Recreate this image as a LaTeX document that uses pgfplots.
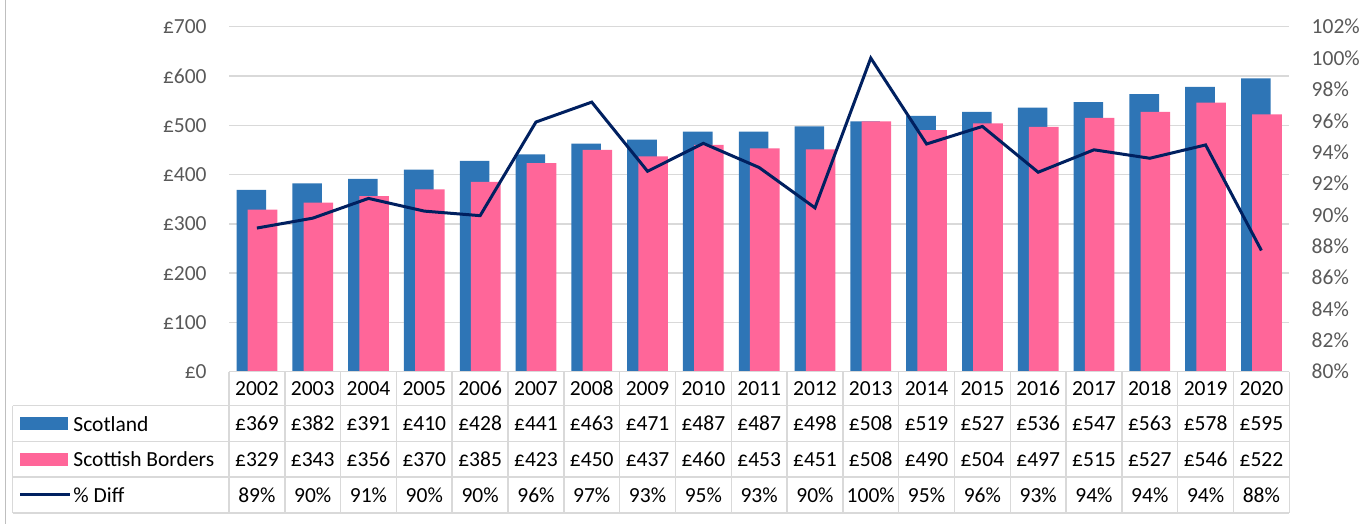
\documentclass[border=0pt]{standalone}
\usepackage{pgfplots}
\usepackage{pgfplotstable}
\pgfplotsset{compat=1.18}
\usepackage{fontspec}
\setmainfont{Carlito}
\definecolor{scot}{HTML}{2E75B6}
\definecolor{bord}{HTML}{FF6699}
\definecolor{navy}{HTML}{002060}
\definecolor{tickgray}{HTML}{595959}
\definecolor{gridgray}{HTML}{D9D9D9}
\definecolor{framegray}{HTML}{BFBFBF}

\pgfplotstableread{
year scot bord pct lab
2002 369 329 89.16 89
2003 382 343 89.79 90
2004 391 356 91.05 91
2005 410 370 90.24 90
2006 428 385 89.95 90
2007 441 423 95.92 96
2008 463 450 97.19 97
2009 471 437 92.78 93
2010 487 460 94.56 95
2011 487 453 93.02 93
2012 498 451 90.45 90
2013 508 508 100.00 100
2014 519 490 94.52 95
2015 527 504 95.64 96
2016 536 497 92.72 93
2017 547 515 94.15 94
2018 563 527 93.61 94
2019 578 546 94.46 94
2020 595 522 87.73 88
}\datatable

\begin{document}
\fontsize{10.75}{13}\selectfont
\begin{tikzpicture}
\path[use as bounding box] (0pt,0pt) rectangle (682pt,262pt);
\draw[framegray, line width=0.75pt] (2.75pt,0pt) -- (2.75pt,262pt);

\begin{axis}[
  at={(114.5pt,76.15pt)}, anchor=south west,
  scale only axis, width=530.15pt, height=172.5pt,
  xmin=-0.5, xmax=18.5, ymin=0, ymax=700,
  xtick=\empty,
  ytick={0,100,200,300,400,500,600,700},
  yticklabels={£0,£100,£200,£300,£400,£500,£600,£700},
  yticklabel style={text=tickgray, inner sep=0pt, anchor=east, xshift=-11pt},
  ymajorgrids, grid style={gridgray, line width=0.75pt},
  major tick length=0pt,
  axis line style={draw=none},
]
\addplot[ybar, bar width=0.53, bar shift=-0.1, fill=scot, draw=none]
  table[x expr=\coordindex, y=scot]{\datatable};
\addplot[ybar, bar width=0.53, bar shift=0.1, fill=bord, draw=none]
  table[x expr=\coordindex, y=bord]{\datatable};
\end{axis}

\begin{axis}[
  at={(114.5pt,76.15pt)}, anchor=south west,
  scale only axis, width=530.15pt, height=172.5pt,
  xmin=-0.5, xmax=18.5, ymin=80, ymax=102,
  axis x line=none, axis y line*=right,
  y axis line style={draw=none},
  ytick={80,82,84,86,88,90,92,94,96,98,100,102},
  yticklabels={80\%,82\%,84\%,86\%,88\%,90\%,92\%,94\%,96\%,98\%,100\%,102\%},
  yticklabel style={text=tickgray, inner sep=0pt, anchor=west, xshift=11pt},
  major tick length=0pt,
]
\addplot[navy, line width=1.5pt] table[x expr=\coordindex, y=pct]{\datatable};
\end{axis}

% data table grid
\foreach \k in {0,...,19} {
  \draw[gridgray, line width=0.75pt] ({114.5pt+27.9026pt*\k},76.15pt) -- ({114.5pt+27.9026pt*\k},5.5pt);
}
\draw[gridgray, line width=0.75pt] (114.5pt,76.15pt) -- (644.65pt,76.15pt);
\foreach \yy in {59.15pt,41.15pt,23.5pt,5.5pt} {
  \draw[gridgray, line width=0.75pt] (6.35pt,\yy) -- (644.65pt,\yy);
}
\draw[gridgray, line width=0.75pt] (6.35pt,59.15pt) -- (6.35pt,5.5pt);

% legend keys
\fill[scot] (10pt,47pt) rectangle (33.85pt,53.35pt);
\fill[bord] (10pt,29pt) rectangle (33.85pt,35.5pt);
\draw[navy, line width=1.5pt] (10pt,14.5pt) -- (35pt,14.5pt);
\node[anchor=west, inner sep=0pt] at (36.5pt,50.15pt) {Scotland};
\node[anchor=west, inner sep=0pt] at (36.5pt,32.3pt) {Scottish Borders};
\node[anchor=west, inner sep=0pt] at (36.5pt,14.5pt) {\% Diff};

% table values
\foreach \i in {0,...,18} {
  \pgfplotstablegetelem{\i}{year}\of\datatable \let\yr\pgfplotsretval
  \pgfplotstablegetelem{\i}{scot}\of\datatable \let\sc\pgfplotsretval
  \pgfplotstablegetelem{\i}{bord}\of\datatable \let\bd\pgfplotsretval
  \pgfplotstablegetelem{\i}{lab}\of\datatable \let\lb\pgfplotsretval
  \pgfmathsetmacro{\cx}{114.5+27.9026*(\i+0.5)}
  \node[inner sep=0pt] at (\cx pt,67.65pt) {\yr};
  \node[inner sep=0pt] at (\cx pt,50.15pt) {£\sc};
  \node[inner sep=0pt] at (\cx pt,32.3pt) {£\bd};
  \node[inner sep=0pt] at (\cx pt,14.5pt) {\lb\%};
}
\end{tikzpicture}
\end{document}
